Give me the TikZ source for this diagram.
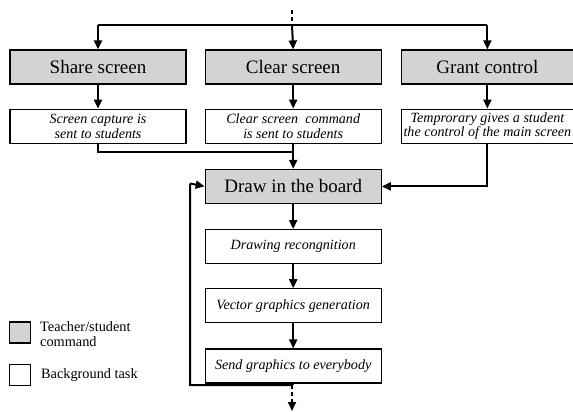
\documentclass[tikz,border=0pt]{standalone}
\usepackage{fontspec}
\setmainfont{Liberation Serif}
\newfontfamily\boxfont{Liberation Serif}
\usepackage{xcolor}
\usetikzlibrary{arrows.meta, positioning}

\definecolor{cmdgray}{RGB}{211,211,211}

\begin{document}
\begin{tikzpicture}[
  x=1pt, y=-1pt,
  node distance=24.5pt and 18pt,
  cmdbox/.style={
    rectangle, draw, fill=cmdgray, line width=1.2pt,
    minimum width=176pt, minimum height=34pt, inner sep=0pt,
    font=\boxfont\fontsize{19}{21}\selectfont
  },
  taskbox/.style={
    rectangle, draw, fill=white, line width=1.2pt,
    minimum width=176pt, minimum height=34pt, inner sep=0pt,
    align=center, font=\boxfont\fontsize{14.1}{14.6}\selectfont\itshape
  },
  keybox/.style={rectangle, draw, line width=1.2pt, minimum size=21pt, inner sep=0pt},
  keytext/.style={anchor=west, align=left, inner sep=0pt, font=\boxfont\fontsize{14.3}{15.5}\selectfont},
  line/.style={draw, line width=2pt, -{Triangle[length=9pt,width=8pt]}},
  plain/.style={draw, line width=2pt},
  dotline/.style={draw, line width=2pt, dash pattern=on 4pt off 3pt}
]
  \useasboundingbox (0,0) rectangle (573,412);

  % command row
  \node [cmdbox] (share) at (98,67) {Share screen};
  \node [cmdbox, right=18pt of share] (clear) {Clear screen};
  \node [cmdbox, minimum width=172pt, right=19pt of clear] (grant) {Grant control};

  % tasks below the commands
  \node [taskbox, below=24pt of share] (capture) {Screen capture is\\sent to students};
  \node [taskbox, below=24pt of clear] (clearcmd) {Clear screen\ \ command\\is sent to students};
  \node [taskbox, minimum width=172pt, below=24pt of grant] (temp) {Temprorary gives a student\\the control of the main screen};

  % board pipeline
  \node [cmdbox, below=25pt of clearcmd] (board) {Draw in the board};
  \node [taskbox, below=25pt of board] (recog) {Drawing recongnition};
  \node [taskbox, below=24pt of recog] (vector) {Vector graphics generation};
  \node [taskbox, below=25pt of vector] (send) {Send graphics to everybody};

  % legend
  \node [keybox, fill=cmdgray] (keycmd) at (20,332.5) {};
  \node [keybox, fill=white] (keytask) at (20,375) {};
  \node [keytext] at (40,334) {Teacher/student\\command};
  \node [keytext] at (41,375) {Background task};

  \coordinate (entry) at (292,10);
  \coordinate (fork) at (292,25);
  \coordinate (merge) at (292,152);
  \coordinate (loop) at (292,385);
  \coordinate (exit) at (292,411);

  \path [dotline] (entry) -- (fork);
  \path [plain] (share.north |- fork) -- (grant.north |- fork);
  \path [line] (fork -| share) -- (share.north);
  \path [line] (fork -| grant) -- (grant.north);
  \path [line] (fork) -- (clear.north);

  \path [line] (share) -- (capture);
  \path [line] (clear) -- (clearcmd);
  \path [line] (grant) -- (temp);

  \path [plain] (capture.south) |- (merge);
  \path [line] (clearcmd.south) -- (board.north);
  \path [line] (temp.south) |- (board.east);

  \path [line] (board) -- (recog);
  \path [line] (recog) -- (vector);
  \path [line] (vector) -- (send);

  \path [plain] (send.south) -- (loop) -| (190,183.5) coordinate (back);
  \path [line] (back) -- (board.west);
  \path [dotline] (loop) -- ([yshift=9pt]exit);
  \path [line] ([yshift=10pt]exit) -- (exit);
\end{tikzpicture}
\end{document}
